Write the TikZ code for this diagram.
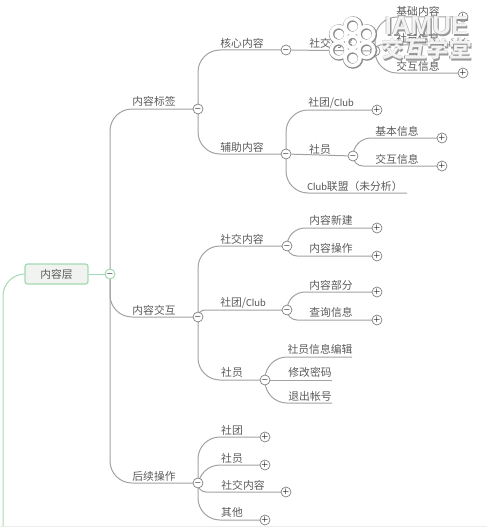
\documentclass[tikz,border=0pt]{standalone}
\usepackage{fontspec}
\setmainfont{Noto Sans CJK SC}
\newfontfamily\wmlatin{Liberation Sans}
\newfontfamily\clubfont{Carlito}
\usetikzlibrary{calc,backgrounds}
\definecolor{linkgray}{HTML}{A2A2A2}
\definecolor{rootgreen}{HTML}{A3D9B1}
\definecolor{rootfill}{HTML}{F0F3EF}
\definecolor{textgray}{HTML}{5A5A5A}
\tikzset{
  topic/.style={text=textgray,inner sep=0pt,font=\fontsize{10.8}{12}\selectfont},
  link/.style={draw=linkgray,line width=1pt,rounded corners=22pt},
  toggle/.style={circle,draw=black!50,fill=white,line width=.7pt,minimum size=10pt,inner sep=0pt,text=black,font=\fontsize{7.5}{8}\selectfont\boldmath},
  wmshadow/.style={text=black!50,text opacity=.8,inner sep=0pt},
  wmtext/.style={text=white,text opacity=.9,inner sep=0pt},
}
\newcommand{\opn}{$-$}
\newcommand{\shu}{$+$}
\newcommand{\wmark}[4]{\node[wmshadow,font=#4]at($(#1,#2)+(1.4,1.4)$){#3};\node[wmshadow,font=#4]at($(#1,#2)+(-.5,-.5)$){#3};\node[wmtext,font=#4]at(#1,#2){#3};}
\begin{document}
\begin{tikzpicture}[x=1pt,y=-1pt]
\useasboundingbox(0,0)rectangle(487,527);
\draw[black!7,line width=1pt](0,526.5)--(487,526.5);
% root
\node[draw=rootgreen,fill=rootfill,line width=1.2pt,rounded corners=2.5pt,minimum width=63pt,minimum height=20pt,text=textgray,inner sep=0pt,font=\fontsize{10.8}{12}\selectfont](root)at(56.5,274){内容层};
\node[toggle,draw=rootgreen,line width=1pt](troot)at(110,274){\opn};
\coordinate(rootend)at(3,527);
% first level
\node[toggle](ttag)at(198,109){\opn};\node[toggle](tact)at(198,317){\opn};\node[toggle](tnext)at(198,483){\opn};
\node[topic](tag)at(154,101){内容标签};\node[topic](act)at(154,310){内容交互};\node[topic](next)at(154,476){后续操作};
% labels: core
\node[toggle](tcore)at(286,50){\opn};\node[toggle](taux)at(286,154){\opn};
\node[topic](core)at(242,43){核心内容};\node[topic](aux)at(242,147){辅助内容};
\node[toggle](tsoc)at(375,51){\opn};\node[topic](soc)at(331,43){社交内容};
\node[toggle](tbase)at(463,17){\shu};\node[toggle](tmem)at(463,45){\shu};\node[toggle](tinter)at(463,73){\shu};
\node[topic](base)at(418,11){基础内容};\node[topic](mem)at(418,38){社员信息};\node[topic](inter)at(418,66){交互信息};
% labels: auxiliary
\node[toggle](tclub)at(377,110){\shu};\node[toggle](tmember)at(353,156){\opn};\coordinate(eunion)at(407,193);
\node[topic](club)at(331,103){社团/{\clubfont Club}};\node[topic](member)at(320,149){社员};\node[topic](union)at(355,186){{\clubfont Club}联盟（未分析）};
\node[toggle](tinfo)at(442,138){\shu};\node[toggle](tdeal)at(442,166){\shu};
\node[topic](info)at(397,131){基本信息};\node[topic](deal)at(397,159){交互信息};
% interaction
\node[toggle](tasoc)at(287,246){\opn};\node[toggle](taclub)at(287,310){\opn};\node[toggle](tamem)at(265,380){\opn};
\node[topic](asoc)at(242,239){社交内容};\node[topic](aclub)at(243,303){社团/{\clubfont Club}};\node[topic](amem)at(232,372){社员};
\node[toggle](tnew)at(377,228){\shu};\node[toggle](tedit)at(377,256){\shu};
\node[topic](new)at(331,220){内容新建};\node[topic](edit)at(331,248){内容操作};
\node[toggle](tpart)at(377,292){\shu};\node[toggle](tquery)at(377,320){\shu};
\node[topic](part)at(331,285){内容部分};\node[topic](query)at(331,312){查询信息};
\coordinate(eprofile)at(352,357);\coordinate(epass)at(332,380);\coordinate(equit)at(332,403);
\node[topic](profile)at(320,349){社员信息编辑};\node[topic](pass)at(310,372){修改密码};\node[topic](quit)at(310,396){退出帐号};
% follow-up
\node[toggle](tnclub)at(265,437){\shu};\node[toggle](tnmem)at(265,465){\shu};\node[toggle](tnsoc)at(286,492){\shu};\node[toggle](tnrest)at(265,520){\shu};
\node[topic](nclub)at(232,430){社团};\node[topic](nmem)at(232,458){社员};\node[topic](nsoc)at(243,485){社交内容};\node[topic](nrest)at(232,512){其他};
% connectors
\begin{scope}[on background layer]
\draw[link,draw=rootgreen](root.west)-|(rootend);\draw[draw=rootgreen,line width=1pt](root)--(troot);
\draw[link](troot.center)|-(ttag.center);\draw[link](troot.center)|-(tact.center);\draw[link](troot.center)|-(tnext.center);
\draw[link](ttag.center)|-(tcore.center);\draw[link](ttag.center)|-(taux.center);
\draw[link](tcore)--(tsoc);
\draw[link](tsoc.center)|-(tbase.center);\draw[link,rounded corners=5pt](tsoc.center)|-(tmem.center);\draw[link](tsoc.center)|-(tinter.center);
\draw[link](taux.center)|-(tclub.center);\draw[link](taux)--(tmember);\draw[link](taux.center)|-(eunion);
\draw[link,rounded corners=18pt](tmember.center)|-(tinfo.center);\draw[link,rounded corners=10pt](tmember.center)|-(tdeal.center);
\draw[link](tact.center)|-(tasoc.center);\draw[link,rounded corners=7pt](tact.center)|-(taclub.center);\draw[link](tact.center)|-(tamem.center);
\draw[link,rounded corners=18pt](tasoc.center)|-(tnew.center);\draw[link,rounded corners=10pt](tasoc.center)|-(tedit.center);
\draw[link,rounded corners=18pt](taclub.center)|-(tpart.center);\draw[link,rounded corners=10pt](taclub.center)|-(tquery.center);
\draw[link](tamem.center)|-(eprofile);\draw[link](tamem)--(epass);\draw[link](tamem.center)|-(equit);
\draw[link](tnext.center)|-(tnclub.center);\draw[link](tnext.center)|-(tnmem.center);\draw[link,rounded corners=8pt](tnext.center)|-(tnsoc.center);\draw[link](tnext.center)|-(tnrest.center);
\end{scope}
% watermark
\foreach \a in {30,90,...,330}{\draw[black!45,line width=5.4pt]($(353,42.5)+(\a:16)$)circle(7.5);}
\draw[black!45,line width=5.4pt](353,42.5)circle(6);
\foreach \a in {30,90,...,330}{\draw[white,line width=3.6pt]($(352.5,42)+(\a:16)$)circle(7.5);}
\draw[white,line width=3.6pt](352.5,42)circle(6);
\wmark{426.5}{26}{IAMUE}{\wmlatin\bfseries\fontsize{26}{30}\selectfont}
\wmark{426.5}{49}{交互学堂}{\bfseries\fontsize{22.5}{25}\selectfont}
\end{tikzpicture}
\end{document}
